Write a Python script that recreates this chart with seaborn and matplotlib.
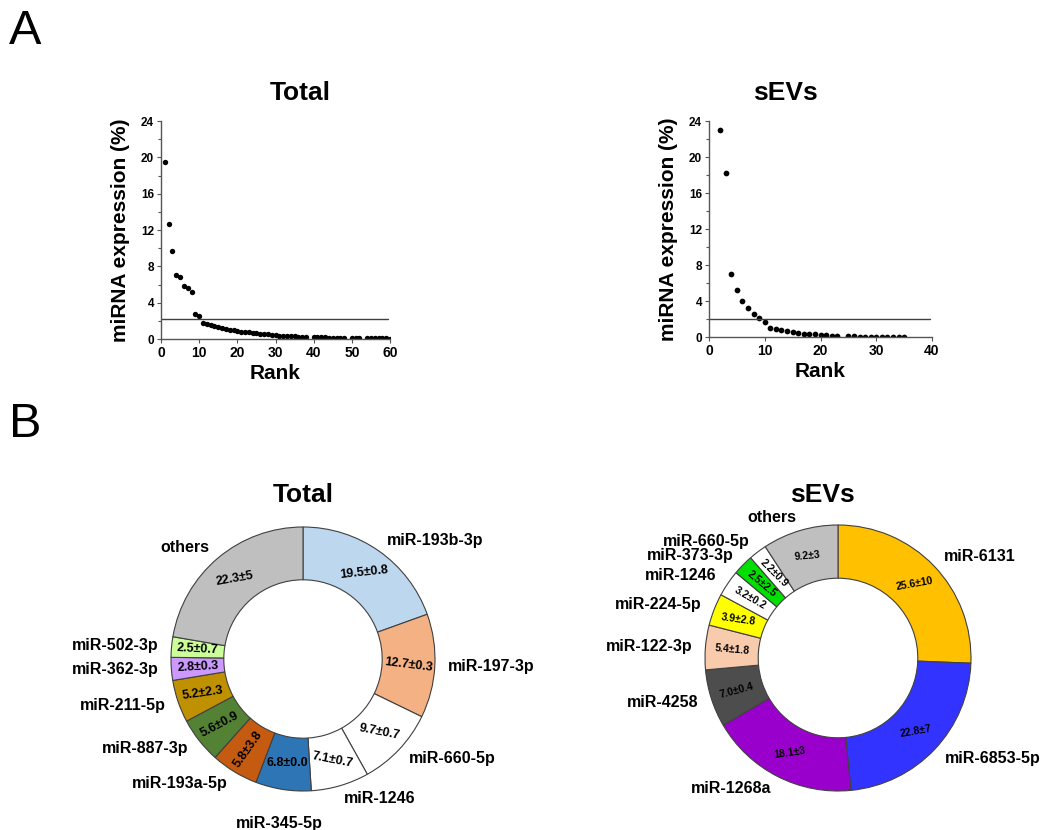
import numpy as np
import matplotlib
matplotlib.use("Agg")
import matplotlib.pyplot as plt
from matplotlib.ticker import MultipleLocator
import seaborn as sns

# ---------------- panel A : rank plots ----------------
total_rank = list(range(1, 39)) + list(range(40, 49)) + [50, 51, 52] + list(range(54, 61))
total_expr = [19.5, 12.7, 9.7, 7.1, 6.8, 5.8, 5.6, 5.2, 2.8, 2.5,
              1.8, 1.65, 1.5, 1.4, 1.3, 1.2, 1.1, 1.0, 0.95, 0.9,
              0.82, 0.76, 0.72, 0.68, 0.63, 0.58, 0.54, 0.5, 0.45, 0.4,
              0.38, 0.35, 0.32, 0.3, 0.28, 0.26, 0.24, 0.22,
              0.2, 0.19, 0.18, 0.17, 0.16, 0.15, 0.14, 0.13, 0.12,
              0.11, 0.1, 0.1,
              0.09, 0.08, 0.08, 0.07, 0.06, 0.06, 0.05]
total_cut = 2.2

sevs_rank = list(range(1, 24)) + list(range(25, 36))
sevs_expr = [25.6, 23.0, 18.2, 7.0, 5.2, 4.0, 3.2, 2.6, 2.1, 1.7,
             1.05, 0.87, 0.75, 0.68, 0.57, 0.45, 0.35, 0.33, 0.32, 0.26,
             0.22, 0.16, 0.12,
             0.06, 0.06, 0.05, 0.05, 0.05, 0.05, 0.04, 0.04, 0.04, 0.04, 0.03]
sevs_cut = 2.0

# ---------------- panel B : donuts ----------------
total_names = ['miR-193b-3p', 'miR-197-3p', 'miR-660-5p', 'miR-1246', 'miR-345-5p',
               'miR-193a-5p', 'miR-887-3p', 'miR-211-5p', 'miR-362-3p', 'miR-502-3p', 'others']
total_pct = [19.5, 12.7, 9.7, 7.1, 6.8, 5.8, 5.6, 5.2, 2.8, 2.5, 22.3]
total_err = ['0.8', '0.3', '0.7', '0.7', '0.0', '3.8', '0.9', '2.3', '0.3', '0.7', '5']
total_colors = ['#BDD7EE', '#F4B183', '#FFFFFF', '#FFFFFF', '#2E75B6', '#C55A11',
                '#548235', '#BF9000', '#CC99FF', '#CCFF99', '#BFBFBF']
total_rot = [6, -7, -11, -11, 0, 55, 28, 8, 3, -3, 10]

sevs_names = ['miR-6131', 'miR-6853-5p', 'miR-1268a', 'miR-4258', 'miR-122-3p',
              'miR-224-5p', 'miR-1246', 'miR-373-3p', 'miR-660-5p', 'others']
sevs_pct = [25.6, 22.8, 18.1, 7.0, 5.4, 3.9, 3.2, 2.5, 2.2, 9.2]
sevs_err = ['10', '7', '3', '0.4', '1.8', '2.8', '0.2', '2.5', '0.9', '3']
sevs_colors = ['#FFC000', '#3333FF', '#9900CC', '#4D4D4D', '#F8CBAD',
               '#FFFF00', '#FFFFFF', '#00E000', '#FFFFFF', '#BFBFBF']
sevs_rot = [10, 10, 8, 15, -5, -8, -30, -40, -45, 5]

sns.set_style("ticks")
plt.rcParams['font.family'] = ['Liberation Sans', 'DejaVu Sans']
plt.rcParams['text.color'] = 'black'
plt.rcParams['axes.labelcolor'] = 'black'
plt.rcParams['xtick.color'] = 'black'
plt.rcParams['ytick.color'] = 'black'

W, H = 1044, 830
fig = plt.figure(figsize=(W / 100, H / 100), dpi=100)


def box(left, top, w, h):
    return [left / W, 1 - (top + h) / H, w / W, h / H]


def rank_plot(rect, ranks, expr, cut, xmax, msize):
    ax = fig.add_axes(rect)
    sns.scatterplot(x=ranks, y=expr, ax=ax, color='black', s=msize, linewidth=0)
    ax.axhline(cut, xmin=0, xmax=0.99, color='#404040', lw=1)
    ax.set_xlim(0, xmax)
    ax.set_ylim(0, 24)
    ax.yaxis.set_major_locator(MultipleLocator(4))
    ax.yaxis.set_minor_locator(MultipleLocator(2))
    ax.xaxis.set_major_locator(MultipleLocator(10))
    for s in ['top', 'right']:
        ax.spines[s].set_visible(False)
    for s in ['left', 'bottom']:
        ax.spines[s].set_color('#555555')
        ax.spines[s].set_linewidth(1)
    ax.tick_params(axis='y', which='major', length=3, width=0.8, color='#555555',
                   labelsize=8.5, pad=2)
    ax.tick_params(axis='y', which='minor', length=2, width=0.8, color='#555555')
    ax.tick_params(axis='x', length=3, width=0.8, color='#555555', labelsize=10, pad=2)
    for t in ax.get_xticklabels() + ax.get_yticklabels():
        t.set_fontweight('bold')
    ax.set_xlabel('Rank', fontsize=15, fontweight='bold', labelpad=3)
    ax.set_ylabel('miRNA expression (%)', fontsize=15, fontweight='bold', labelpad=8)
    return ax


rank_plot(box(161, 121, 229, 218), total_rank, total_expr, total_cut, 60, 15)
rank_plot(box(709, 121, 223, 216), sevs_rank, sevs_expr, sevs_cut, 40, 17)


def donut(rect, names, pct, err, colors, rots, vsize):
    ax = fig.add_axes(rect)
    wedges, _ = ax.pie(pct, colors=colors, startangle=90, counterclock=False, radius=1,
                       wedgeprops=dict(width=0.4, edgecolor='#404040', linewidth=0.8))
    ax.set_xlim(-1, 1)
    ax.set_ylim(-1, 1)
    ax.axis('off')
    for w, name, v, e, rot in zip(wedges, names, pct, err, rots):
        mid = np.deg2rad((w.theta1 + w.theta2) / 2)
        c, s = np.cos(mid), np.sin(mid)
        ax.text(0.8 * c, 0.8 * s, f'{v:.1f}\u00b1{e}', rotation=rot, ha='center',
                va='center', fontsize=vsize, fontweight='bold', rotation_mode='anchor')
        bottom = abs(c) < 0.2 and s < 0
        ha = 'center' if abs(c) < 0.2 else ('left' if c > 0 else 'right')
        r = 1.2 if bottom else 1.1
        ax.text(r * c, r * s, name, ha=ha, va='top' if bottom else 'center',
                fontsize=11.5, fontweight='bold', clip_on=False)
    return ax


donut(box(171, 527, 264, 264), total_names, total_pct, total_err, total_colors, total_rot, 9)
donut(box(705, 525, 266, 266), sevs_names, sevs_pct, sevs_err, sevs_colors, sevs_rot, 7.5)

# titles and panel letters
fig.text(300 / W, 1 - 93 / H, 'Total', ha='center', va='center', fontsize=19, fontweight='bold')
fig.text(785 / W, 1 - 93 / H, 'sEVs', ha='center', va='center', fontsize=19, fontweight='bold')
fig.text(303 / W, 1 - 495 / H, 'Total', ha='center', va='center', fontsize=19, fontweight='bold')
fig.text(822 / W, 1 - 495 / H, 'sEVs', ha='center', va='center', fontsize=19, fontweight='bold')
fig.text(25 / W, 1 - 31 / H, 'A', ha='center', va='center', fontsize=35)
fig.text(25 / W, 1 - 424 / H, 'B', ha='center', va='center', fontsize=35)

fig.savefig('out.png', dpi=100)
